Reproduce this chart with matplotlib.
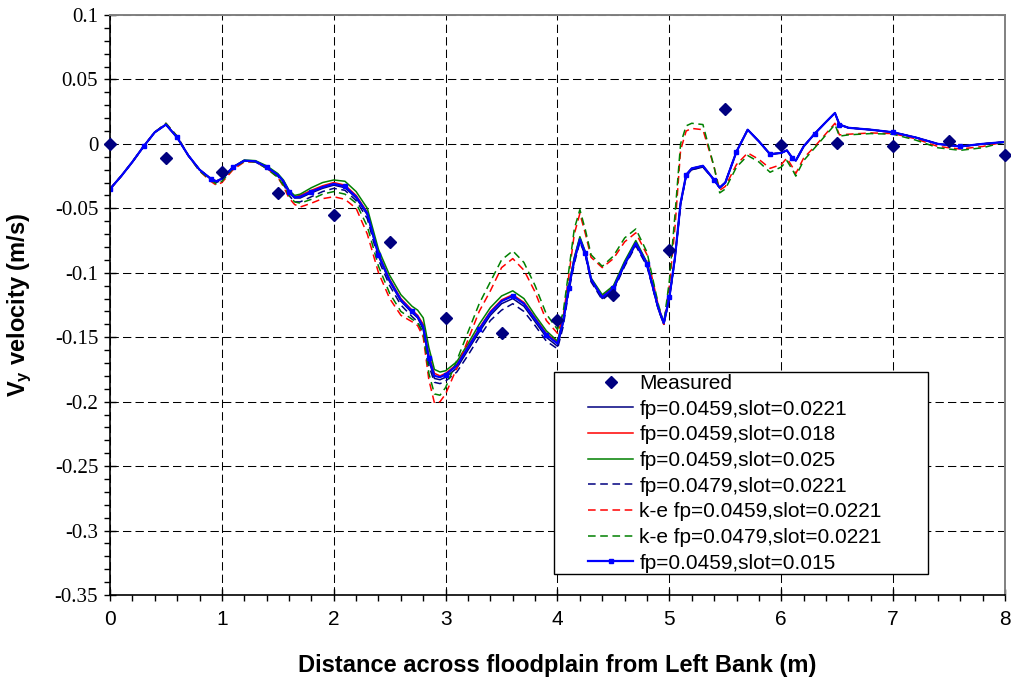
import matplotlib
matplotlib.use("Agg")
import matplotlib.pyplot as plt
from matplotlib.patches import Rectangle
from matplotlib.ticker import MultipleLocator

plt.rcParams['font.family'] = ['Liberation Sans', 'DejaVu Sans']
plt.rcParams['mathtext.default'] = 'regular'

# Measured transverse velocity
meas_x = [0, 0.5, 1.0, 1.5, 2.0, 2.5, 3.0, 3.5, 4.0, 4.5, 5.0, 5.5, 6.0, 6.5, 7.0, 7.5, 8.0]
meas_y = [0.0, -0.011, -0.022, -0.038, -0.055, -0.076, -0.135, -0.147, -0.137, -0.117,
          -0.082, 0.027, -0.001, 0.001, -0.002, 0.002, -0.009]

# Model output stations across the floodplain
x_model = [0, 0.1, 0.2, 0.3, 0.4, 0.5, 0.6, 0.7, 0.8, 0.9,
           0.95, 1.0, 1.1, 1.2, 1.3, 1.4, 1.5, 1.55, 1.6, 1.65,
           1.7, 1.8, 1.9, 2.0, 2.1, 2.2, 2.3, 2.4, 2.5, 2.6,
           2.7, 2.75, 2.8, 2.85, 2.9, 2.95, 3.0, 3.1, 3.2, 3.3,
           3.4, 3.5, 3.6, 3.7, 3.8, 3.9, 4.0, 4.05, 4.1, 4.15,
           4.2, 4.25, 4.3, 4.4, 4.5, 4.6, 4.7, 4.8, 4.9, 4.95,
           5.0, 5.05, 5.1, 5.15, 5.2, 5.3, 5.4, 5.45, 5.5, 5.6,
           5.7, 5.8, 5.9, 6.0, 6.05, 6.1, 6.13, 6.2, 6.3, 6.4,
           6.48, 6.52, 6.6, 6.8, 7.0, 7.2, 7.4, 7.6, 7.8, 8.0]

# fp=0.0459, slot=0.0221
fp0459_s0221 = [-0.035, -0.025, -0.014, -0.002, 0.009, 0.015, 0.005, -0.009, -0.020, -0.027,
                -0.029, -0.027, -0.018, -0.013, -0.0135, -0.018, -0.024, -0.029, -0.038, -0.042,
                -0.042, -0.038, -0.0345, -0.032, -0.034, -0.042, -0.055, -0.087, -0.107, -0.122,
                -0.131, -0.135, -0.144, -0.168, -0.182, -0.183, -0.181, -0.174, -0.160, -0.146,
                -0.133, -0.124, -0.120, -0.126, -0.138, -0.150, -0.157, -0.139, -0.113, -0.091,
                -0.075, -0.086, -0.106, -0.120, -0.113, -0.094, -0.078, -0.094, -0.128, -0.140,
                -0.120, -0.089, -0.047, -0.025, -0.020, -0.018, -0.028, -0.034, -0.030, -0.006,
                0.011, 0.002, -0.008, -0.007, -0.005, -0.011, -0.013, -0.002, 0.008, 0.017,
                0.024, 0.015, 0.0125, 0.011, 0.009, 0.005, 0.000, -0.002, 0.000, 0.0015]

# fp=0.0459, slot=0.018
fp0459_s018 = [-0.035, -0.025, -0.014, -0.002, 0.009, 0.015, 0.005, -0.009, -0.020, -0.027,
               -0.029, -0.027, -0.018, -0.013, -0.0135, -0.018, -0.024, -0.029, -0.037, -0.041,
               -0.040, -0.036, -0.0325, -0.030, -0.032, -0.040, -0.053, -0.085, -0.105, -0.120,
               -0.129, -0.133, -0.140, -0.164, -0.178, -0.180, -0.178, -0.171, -0.157, -0.143,
               -0.130, -0.121, -0.117, -0.123, -0.135, -0.147, -0.154, -0.137, -0.111, -0.089,
               -0.073, -0.085, -0.105, -0.118, -0.111, -0.092, -0.076, -0.093, -0.127, -0.139,
               -0.119, -0.088, -0.046, -0.024, -0.019, -0.017, -0.028, -0.034, -0.030, -0.006,
               0.011, 0.002, -0.008, -0.007, -0.005, -0.011, -0.013, -0.002, 0.008, 0.017,
               0.024, 0.015, 0.0125, 0.011, 0.009, 0.005, 0.000, -0.002, 0.000, 0.0015]

# fp=0.0459, slot=0.025
fp0459_s025 = [-0.035, -0.025, -0.014, -0.002, 0.009, 0.015, 0.005, -0.009, -0.020, -0.027,
               -0.029, -0.027, -0.018, -0.0125, -0.013, -0.017, -0.023, -0.028, -0.036, -0.040,
               -0.039, -0.034, -0.030, -0.028, -0.029, -0.037, -0.050, -0.082, -0.102, -0.117,
               -0.126, -0.129, -0.135, -0.158, -0.175, -0.177, -0.176, -0.169, -0.155, -0.140,
               -0.127, -0.118, -0.114, -0.120, -0.133, -0.145, -0.153, -0.136, -0.110, -0.088,
               -0.072, -0.084, -0.104, -0.117, -0.110, -0.091, -0.075, -0.092, -0.127, -0.139,
               -0.119, -0.088, -0.046, -0.024, -0.019, -0.017, -0.028, -0.034, -0.030, -0.006,
               0.011, 0.002, -0.008, -0.007, -0.005, -0.011, -0.013, -0.002, 0.008, 0.017,
               0.024, 0.015, 0.0125, 0.011, 0.009, 0.005, 0.000, -0.002, 0.000, 0.0015]

# fp=0.0479, slot=0.0221
fp0479_s0221 = [-0.035, -0.025, -0.014, -0.002, 0.009, 0.015, 0.005, -0.009, -0.020, -0.027,
                -0.030, -0.028, -0.018, -0.013, -0.014, -0.019, -0.025, -0.031, -0.040, -0.045,
                -0.045, -0.041, -0.037, -0.0345, -0.036, -0.044, -0.058, -0.090, -0.110, -0.125,
                -0.134, -0.138, -0.148, -0.172, -0.185, -0.186, -0.184, -0.177, -0.164, -0.150,
                -0.137, -0.129, -0.124, -0.130, -0.141, -0.153, -0.159, -0.142, -0.115, -0.093,
                -0.076, -0.087, -0.107, -0.121, -0.114, -0.095, -0.079, -0.095, -0.128, -0.140,
                -0.120, -0.089, -0.047, -0.025, -0.020, -0.018, -0.028, -0.034, -0.030, -0.006,
                0.011, 0.002, -0.008, -0.007, -0.005, -0.011, -0.013, -0.002, 0.008, 0.017,
                0.024, 0.015, 0.0125, 0.011, 0.009, 0.005, 0.000, -0.002, 0.000, 0.0015]

# k-e fp=0.0459, slot=0.0221
ke_fp0459_s0221 = [-0.035, -0.025, -0.014, -0.002, 0.009, 0.016, 0.006, -0.009, -0.021, -0.029,
                   -0.032, -0.030, -0.020, -0.014, -0.014, -0.019, -0.026, -0.033, -0.042, -0.047,
                   -0.049, -0.046, -0.0425, -0.041, -0.043, -0.050, -0.070, -0.100, -0.120, -0.133,
                   -0.138, -0.141, -0.150, -0.183, -0.201, -0.200, -0.194, -0.174, -0.152, -0.130,
                   -0.114, -0.096, -0.089, -0.098, -0.115, -0.137, -0.147, -0.135, -0.103, -0.070,
                   -0.054, -0.070, -0.088, -0.096, -0.089, -0.076, -0.069, -0.086, -0.125, -0.140,
                   -0.110, -0.065, -0.005, 0.010, 0.012, 0.011, -0.018, -0.036, -0.033, -0.016,
                   -0.007, -0.012, -0.019, -0.016, -0.011, -0.018, -0.023, -0.011, -0.002, 0.008,
                   0.016, 0.007, 0.0075, 0.0085, 0.008, 0.004, -0.002, -0.004, -0.002, 0.0015]

# k-e fp=0.0479, slot=0.0221
ke_fp0479_s0221 = [-0.035, -0.025, -0.014, -0.002, 0.009, 0.016, 0.006, -0.009, -0.021, -0.028,
                   -0.031, -0.029, -0.019, -0.0135, -0.014, -0.019, -0.026, -0.032, -0.040, -0.045,
                   -0.046, -0.043, -0.039, -0.037, -0.039, -0.046, -0.064, -0.095, -0.116, -0.130,
                   -0.136, -0.139, -0.146, -0.178, -0.194, -0.195, -0.189, -0.168, -0.146, -0.124,
                   -0.107, -0.090, -0.083, -0.092, -0.110, -0.132, -0.144, -0.131, -0.099, -0.066,
                   -0.051, -0.067, -0.086, -0.095, -0.087, -0.073, -0.066, -0.084, -0.124, -0.139,
                   -0.106, -0.055, 0.000, 0.014, 0.016, 0.015, -0.018, -0.038, -0.035, -0.018,
                   -0.009, -0.014, -0.022, -0.018, -0.013, -0.020, -0.025, -0.013, -0.003, 0.007,
                   0.015, 0.006, 0.007, 0.008, 0.0075, 0.003, -0.003, -0.005, -0.003, 0.0015]

# fp=0.0459, slot=0.015
fp0459_s015 = [-0.035, -0.025, -0.014, -0.002, 0.009, 0.015, 0.005, -0.009, -0.020, -0.027,
               -0.029, -0.027, -0.018, -0.013, -0.0135, -0.018, -0.024, -0.029, -0.037, -0.0415,
               -0.041, -0.037, -0.0335, -0.031, -0.033, -0.041, -0.054, -0.086, -0.106, -0.121,
               -0.130, -0.134, -0.142, -0.166, -0.180, -0.181, -0.179, -0.172, -0.158, -0.144,
               -0.131, -0.122, -0.118, -0.124, -0.136, -0.148, -0.155, -0.138, -0.112, -0.090,
               -0.074, -0.085, -0.105, -0.119, -0.112, -0.093, -0.077, -0.093, -0.127, -0.139,
               -0.119, -0.088, -0.046, -0.024, -0.019, -0.017, -0.028, -0.034, -0.030, -0.006,
               0.011, 0.002, -0.008, -0.007, -0.005, -0.011, -0.013, -0.002, 0.008, 0.017,
               0.024, 0.015, 0.0125, 0.011, 0.009, 0.005, 0.000, -0.002, 0.000, 0.0015]

x_ticks = [0, 1, 2, 3, 4, 5, 6, 7, 8]
y_ticks = [-0.35, -0.3, -0.25, -0.2, -0.15, -0.1, -0.05, 0, 0.05, 0.1]
y_ticklabels = ['-0.35', '-0.3', '-0.25', '-0.2', '-0.15', '-0.1', '-0.05', '0', '0.05', '0.1']

NAVY = '#000080'
RED = '#FF0000'
GREEN = '#008000'
BLUE = '#0000FF'
DASH = (0, (5, 3))

fig = plt.figure(figsize=(10.12, 6.82), dpi=100)
ax = fig.add_axes([110 / 1012, 87 / 682, 895 / 1012, 580 / 682])

ax.plot(meas_x, meas_y, linestyle='none', marker='D', markersize=6.5,
        color=NAVY, label='Measured', zorder=3, clip_on=False)
ax.plot(x_model, fp0459_s0221, color=NAVY, lw=1.1, label='fp=0.0459,slot=0.0221')
ax.plot(x_model, fp0459_s018, color=RED, lw=1.1, label='fp=0.0459,slot=0.018')
ax.plot(x_model, fp0459_s025, color=GREEN, lw=1.1, label='fp=0.0459,slot=0.025')
ax.plot(x_model, fp0479_s0221, color=NAVY, lw=1.1, ls=DASH, label='fp=0.0479,slot=0.0221')
ax.plot(x_model, ke_fp0459_s0221, color=RED, lw=1.1, ls=DASH, label='k-e fp=0.0459,slot=0.0221')
ax.plot(x_model, ke_fp0479_s0221, color=GREEN, lw=1.1, ls=DASH, label='k-e fp=0.0479,slot=0.0221')
ax.plot(x_model, fp0459_s015, color=BLUE, lw=1.6, marker='s', markersize=2.6,
        markevery=3, label='fp=0.0459,slot=0.015')

ax.set_xlim(0, 8)
ax.set_ylim(-0.35, 0.1)

ax.set_xticks(x_ticks)
ax.set_xticklabels([str(v) for v in x_ticks], fontsize=15)
ax.xaxis.set_minor_locator(MultipleLocator(0.2))
ax.set_yticks(y_ticks)
ax.set_yticklabels(y_ticklabels, fontsize=15, family='Liberation Serif')
ax.yaxis.set_minor_locator(MultipleLocator(0.01))

ax.tick_params(which='major', direction='inout', length=9, width=1, color='black', pad=4)
ax.tick_params(which='minor', direction='out', length=4.5, width=1, color='black')
ax.tick_params(axis='x', which='major', pad=6)

ax.grid(True, which='major', color='black', linestyle=(0, (8, 4)), linewidth=0.75)

for side in ('left', 'bottom'):
    ax.spines[side].set_color('black')
    ax.spines[side].set_linewidth(1.2)
for side in ('top', 'right'):
    ax.spines[side].set_color('#808080')
    ax.spines[side].set_linewidth(1.4)

ax.set_xlabel('Distance across floodplain from Left Bank (m)', fontsize=17, fontweight='bold')
ax.xaxis.set_label_coords(0.5, (595 - 654) / 580)
ax.set_ylabel('V$_{y}$ velocity (m/s)', fontsize=17, fontweight='bold')
ax.yaxis.set_label_coords((34 - 110) / 895, 0.5)

# legend box with wide side margins
box_x0 = (554 - 110) / 895
box_y0 = (595 - 574) / 580
box_w = (928 - 554) / 895
box_h = (574 - 372) / 580
ax.add_patch(Rectangle((box_x0, box_y0), box_w, box_h, transform=ax.transAxes,
                       facecolor='white', edgecolor='black', linewidth=1.0, zorder=4.9))
leg = ax.legend(loc='upper left', bbox_to_anchor=((592 - 110) / 895 - 0.004, (595 - 374) / 580),
                frameon=False, fontsize=15, handlelength=2.15, handletextpad=0.3,
                labelspacing=0.32, borderpad=0.0, borderaxespad=0.0)
leg.set_zorder(5)

fig.savefig('out.png', dpi=100)
